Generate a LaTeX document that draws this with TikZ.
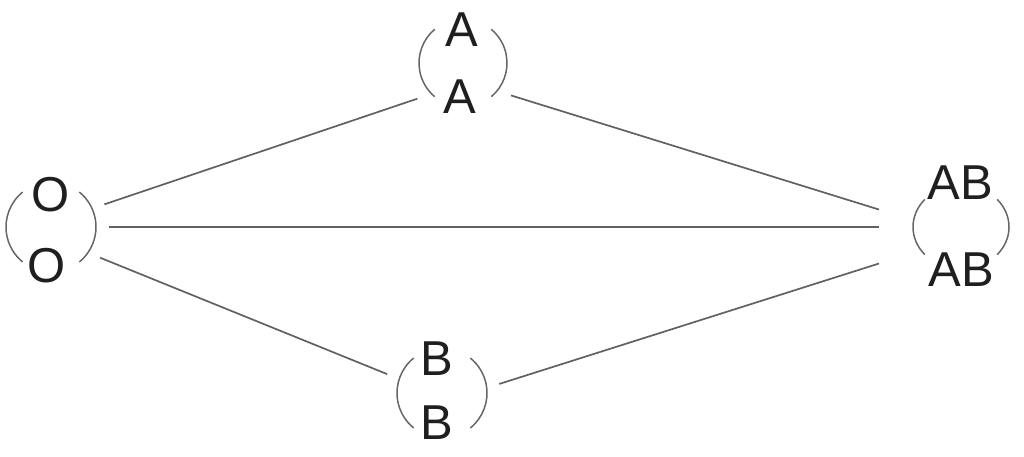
\documentclass[tikz,border=0pt]{standalone}
\usepackage{fontspec}
\setmainfont{Liberation Sans}
\usetikzlibrary{shapes.geometric}

\begin{document}
\begin{tikzpicture}[x=1pt, y=1pt,
	hub/.style={circle, minimum size=116pt, inner sep=0pt, outer sep=0pt},
	allele/.style={inner sep=0pt, text=black!88, font=\fontsize{49}{49}\selectfont},
	paren/.style={draw=black!60, line width=1.5pt},
	link/.style={draw=black!62, line width=1.7pt}]

\useasboundingbox (0,0) rectangle (1024,456);

% O/O on the left
\begin{scope}[shift={(51,229)}]
	\node[hub] (O) {};
	\node[allele] (O-top) at (0,32) {O};
	\node[allele] (O-bot) at (-4,-39) {O};
	\draw[paren] (129:45) arc[start angle=129, end angle=231, radius=45];
	\draw[paren] (-51:45) arc[start angle=-51, end angle=51, radius=45];
\end{scope}

% A/A at the top
\begin{scope}[shift={(463,393)}]
	\node[hub] (A) {};
	\node[allele] (A-top) at (-1,33) {A};
	\node[allele] (A-bot) at (-3,-34) {A};
	\draw[paren] (130:44) arc[start angle=130, end angle=230, radius=44];
	\draw[paren] (-50:44) arc[start angle=-50, end angle=50, radius=44];
\end{scope}

% B/B at the bottom
\begin{scope}[shift={(442,63)}]
	\node[hub] (B) {};
	\node[allele] (B-top) at (-5,34) {B};
	\node[allele] (B-bot) at (-5,-30) {B};
	\draw[paren] (129:45) arc[start angle=129, end angle=231, radius=45];
	\draw[paren] (-51:45) arc[start angle=-51, end angle=51, radius=45];
\end{scope}

% AB/AB on the right
\begin{scope}[shift={(961,229)}]
	\node[hub, rectangle, minimum width=164pt, minimum height=100pt] (AB) {};
	\node[allele] (AB-top) at (-1,44) {AB};
	\node[allele] (AB-bot) at (0,-43) {AB};
	\draw[paren] (139:48 and 42) arc[start angle=139, end angle=221, x radius=48, y radius=42];
	\draw[paren] (-41:48 and 42) arc[start angle=-41, end angle=41, x radius=48, y radius=42];
\end{scope}

% connections
\draw[link] (O.23) -- (A.218);
\draw[link] (A.-34) -- (AB.168);
\draw[link] (O.east) -- (AB.west);
\draw[link] (O.-32) -- (B.161);
\draw[link] (B.9) -- (AB.204);

\end{tikzpicture}
\end{document}
